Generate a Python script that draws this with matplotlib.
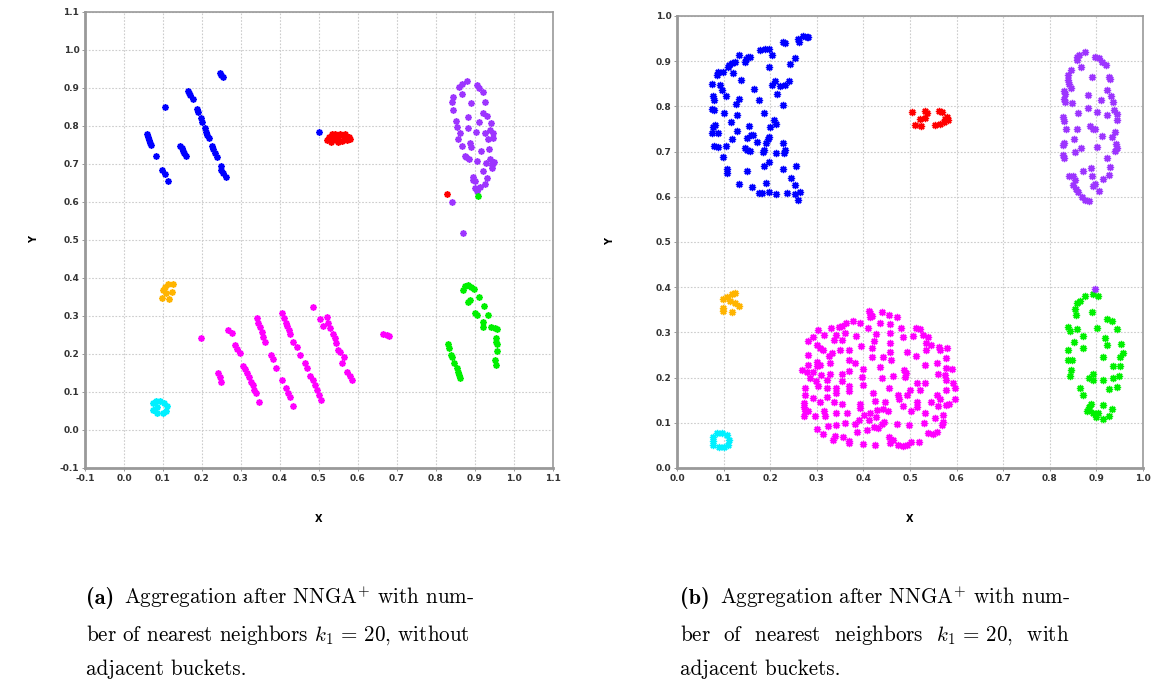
import numpy as np
import matplotlib.pyplot as plt

plt.rcParams['mathtext.fontset'] = 'cm'

# ---- panel (a): without adjacent buckets ----
a_blue = [(0.250, 0.934), (0.254, 0.928), (0.247, 0.939),
          (0.165, 0.893), (0.168, 0.886), (0.169, 0.882), (0.176, 0.870), (0.188, 0.844),
          (0.191, 0.838), (0.197, 0.820), (0.199, 0.811), (0.208, 0.794), (0.210, 0.785),
          (0.214, 0.776), (0.219, 0.768), (0.225, 0.747), (0.229, 0.739), (0.233, 0.728),
          (0.238, 0.719), (0.248, 0.695), (0.250, 0.684), (0.255, 0.675), (0.261, 0.665),
          (0.105, 0.849), (0.058, 0.779), (0.061, 0.772), (0.064, 0.763), (0.067, 0.756),
          (0.069, 0.750), (0.082, 0.721), (0.144, 0.747), (0.148, 0.741), (0.152, 0.735),
          (0.155, 0.728), (0.159, 0.721), (0.097, 0.684), (0.105, 0.674), (0.114, 0.656),
          (0.500, 0.785)]
a_red = [(0.520, 0.762), (0.525, 0.772), (0.530, 0.758), (0.535, 0.768), (0.540, 0.778),
         (0.545, 0.762), (0.550, 0.772), (0.555, 0.780), (0.560, 0.760), (0.563, 0.770),
         (0.568, 0.778), (0.572, 0.762), (0.576, 0.772), (0.580, 0.766), (0.533, 0.780),
         (0.548, 0.757), (0.828, 0.622)]
a_purple = [(0.879, 0.919), (0.866, 0.911), (0.860, 0.903), (0.904, 0.908), (0.911, 0.899),
            (0.920, 0.890), (0.844, 0.877), (0.868, 0.884), (0.891, 0.861), (0.840, 0.864),
            (0.926, 0.864), (0.843, 0.842), (0.921, 0.835), (0.930, 0.825), (0.851, 0.814),
            (0.940, 0.809), (0.881, 0.823), (0.911, 0.811), (0.853, 0.798), (0.883, 0.794),
            (0.862, 0.782), (0.903, 0.785), (0.938, 0.789), (0.926, 0.781), (0.947, 0.782),
            (0.934, 0.765), (0.947, 0.768), (0.857, 0.765), (0.887, 0.754), (0.868, 0.747),
            (0.891, 0.744), (0.937, 0.739), (0.915, 0.735), (0.874, 0.721), (0.885, 0.712),
            (0.904, 0.709), (0.938, 0.712), (0.947, 0.702), (0.943, 0.689), (0.928, 0.702),
            (0.921, 0.682), (0.896, 0.667), (0.930, 0.662), (0.900, 0.654), (0.926, 0.647),
            (0.900, 0.636), (0.913, 0.639), (0.904, 0.630), (0.945, 0.697), (0.896, 0.658),
            (0.949, 0.706), (0.878, 0.718), (0.840, 0.601), (0.869, 0.518)]
a_orange = [(0.114, 0.384), (0.105, 0.377), (0.099, 0.368), (0.122, 0.364), (0.109, 0.360),
            (0.097, 0.347), (0.116, 0.344), (0.125, 0.384)]
a_cyan = [(0.075, 0.070), (0.082, 0.077), (0.092, 0.075), (0.103, 0.072), (0.111, 0.063),
          (0.108, 0.051), (0.099, 0.044), (0.085, 0.046), (0.074, 0.053), (0.085, 0.061)]
a_green = [(0.870, 0.368), (0.874, 0.379), (0.883, 0.382), (0.891, 0.377), (0.897, 0.370),
           (0.887, 0.342), (0.883, 0.338), (0.911, 0.349), (0.923, 0.325), (0.900, 0.309),
           (0.904, 0.303), (0.934, 0.303), (0.920, 0.285), (0.921, 0.272), (0.940, 0.270),
           (0.951, 0.268), (0.956, 0.265), (0.954, 0.241), (0.954, 0.232), (0.956, 0.226),
           (0.956, 0.209), (0.951, 0.184), (0.954, 0.171), (0.832, 0.226), (0.834, 0.215),
           (0.838, 0.197), (0.840, 0.191), (0.846, 0.175), (0.853, 0.162), (0.857, 0.153),
           (0.860, 0.145), (0.862, 0.136), (0.907, 0.616)]
a_magenta = [(0.197, 0.241),
             (0.242, 0.149), (0.246, 0.139), (0.250, 0.127),
             (0.267, 0.263), (0.276, 0.254), (0.285, 0.224), (0.291, 0.212), (0.297, 0.202),
             (0.306, 0.168), (0.310, 0.160), (0.316, 0.151), (0.321, 0.140), (0.325, 0.127),
             (0.330, 0.118), (0.333, 0.105), (0.338, 0.097), (0.347, 0.073),
             (0.340, 0.294), (0.344, 0.281), (0.349, 0.270), (0.353, 0.259), (0.357, 0.246),
             (0.362, 0.232),
             (0.376, 0.197), (0.381, 0.186), (0.391, 0.162), (0.404, 0.132), (0.415, 0.110),
             (0.421, 0.098), (0.426, 0.088), (0.433, 0.063),
             (0.404, 0.307), (0.410, 0.294), (0.415, 0.282), (0.419, 0.274), (0.424, 0.263),
             (0.427, 0.253), (0.434, 0.232), (0.443, 0.218), (0.451, 0.197), (0.464, 0.175),
             (0.470, 0.162), (0.477, 0.142), (0.484, 0.132), (0.490, 0.118), (0.496, 0.105),
             (0.501, 0.092), (0.504, 0.079),
             (0.485, 0.323), (0.503, 0.291), (0.521, 0.298), (0.524, 0.281), (0.511, 0.274),
             (0.528, 0.268), (0.537, 0.253), (0.541, 0.241), (0.545, 0.228), (0.550, 0.211),
             (0.554, 0.206), (0.564, 0.191), (0.558, 0.175), (0.571, 0.153), (0.579, 0.142),
             (0.586, 0.132),
             (0.665, 0.252), (0.675, 0.250), (0.680, 0.247)]

# ---- panel (b): with adjacent buckets ----
b_blue = [(0.271, 0.956), (0.278, 0.953), (0.282, 0.953), (0.260, 0.948), (0.262, 0.943),
          (0.228, 0.943), (0.232, 0.941), (0.177, 0.925), (0.189, 0.926), (0.198, 0.926),
          (0.203, 0.914), (0.253, 0.906), (0.242, 0.894), (0.198, 0.886), (0.132, 0.914),
          (0.153, 0.910), (0.157, 0.909), (0.148, 0.904), (0.146, 0.899), (0.124, 0.899),
          (0.117, 0.895), (0.112, 0.892), (0.110, 0.888), (0.099, 0.875), (0.089, 0.875),
          (0.085, 0.869), (0.121, 0.873), (0.137, 0.858), (0.074, 0.850), (0.092, 0.847),
          (0.096, 0.836), (0.210, 0.856), (0.241, 0.856), (0.232, 0.847), (0.220, 0.844),
          (0.203, 0.847), (0.165, 0.838), (0.215, 0.827), (0.077, 0.823), (0.105, 0.823),
          (0.080, 0.813), (0.134, 0.816), (0.126, 0.805), (0.175, 0.813), (0.227, 0.802),
          (0.074, 0.794), (0.079, 0.792), (0.101, 0.786), (0.128, 0.781), (0.187, 0.786),
          (0.209, 0.770), (0.212, 0.761), (0.200, 0.755), (0.115, 0.766), (0.082, 0.759),
          (0.078, 0.754), (0.155, 0.757), (0.074, 0.742), (0.089, 0.740), (0.128, 0.746),
          (0.158, 0.737), (0.164, 0.737), (0.150, 0.729), (0.119, 0.727), (0.198, 0.732),
          (0.196, 0.727), (0.172, 0.722), (0.191, 0.720), (0.228, 0.720), (0.079, 0.712),
          (0.087, 0.710), (0.105, 0.712), (0.146, 0.707), (0.151, 0.704), (0.157, 0.702),
          (0.187, 0.704), (0.184, 0.700), (0.232, 0.704), (0.230, 0.696), (0.212, 0.696),
          (0.098, 0.687), (0.198, 0.676), (0.187, 0.667), (0.108, 0.661), (0.108, 0.652),
          (0.151, 0.656), (0.227, 0.661), (0.255, 0.667), (0.244, 0.641), (0.132, 0.628),
          (0.192, 0.630), (0.253, 0.625), (0.160, 0.621), (0.175, 0.609), (0.182, 0.608),
          (0.198, 0.611), (0.212, 0.606), (0.237, 0.608), (0.253, 0.606), (0.264, 0.611),
          (0.260, 0.593)]
b_red = [(0.504, 0.787), (0.532, 0.790), (0.536, 0.785), (0.521, 0.772), (0.532, 0.774),
         (0.511, 0.759), (0.523, 0.757), (0.563, 0.790), (0.568, 0.787), (0.580, 0.777),
         (0.575, 0.772), (0.582, 0.770), (0.573, 0.765), (0.564, 0.760), (0.554, 0.759)]
b_purple = [(0.876, 0.921), (0.863, 0.914), (0.858, 0.909), (0.859, 0.903), (0.897, 0.909),
            (0.906, 0.906), (0.911, 0.899), (0.921, 0.892), (0.866, 0.886), (0.845, 0.881),
            (0.838, 0.869), (0.890, 0.864), (0.840, 0.858), (0.842, 0.850), (0.845, 0.840),
            (0.926, 0.866), (0.928, 0.860), (0.830, 0.835), (0.833, 0.827), (0.922, 0.836),
            (0.931, 0.822), (0.881, 0.825), (0.909, 0.814), (0.830, 0.816), (0.833, 0.810),
            (0.847, 0.807), (0.936, 0.810), (0.881, 0.796), (0.861, 0.786), (0.902, 0.788),
            (0.938, 0.792), (0.945, 0.783), (0.922, 0.781), (0.828, 0.776), (0.830, 0.768),
            (0.945, 0.770), (0.886, 0.757), (0.892, 0.749), (0.897, 0.749), (0.835, 0.749),
            (0.859, 0.749), (0.940, 0.744), (0.933, 0.733), (0.852, 0.727), (0.911, 0.735),
            (0.830, 0.718), (0.828, 0.715), (0.942, 0.717), (0.945, 0.707), (0.940, 0.702),
            (0.866, 0.707), (0.854, 0.698), (0.902, 0.711), (0.829, 0.692), (0.830, 0.685),
            (0.922, 0.685), (0.929, 0.665), (0.926, 0.648), (0.888, 0.663), (0.872, 0.656),
            (0.890, 0.645), (0.842, 0.645), (0.850, 0.645), (0.854, 0.636), (0.850, 0.626),
            (0.915, 0.639), (0.897, 0.628), (0.893, 0.624), (0.856, 0.617), (0.861, 0.611),
            (0.906, 0.613), (0.868, 0.600), (0.876, 0.593), (0.885, 0.591), (0.897, 0.395)]
b_orange = [(0.099, 0.373), (0.107, 0.379), (0.117, 0.385), (0.124, 0.388), (0.114, 0.370),
            (0.124, 0.364), (0.134, 0.358), (0.099, 0.348), (0.117, 0.346), (0.098, 0.353)]
b_cyan = [(0.078, 0.069), (0.085, 0.077), (0.096, 0.078), (0.107, 0.073), (0.112, 0.063),
          (0.110, 0.051), (0.101, 0.046), (0.091, 0.047), (0.078, 0.051), (0.077, 0.060)]
b_green = [(0.892, 0.386), (0.904, 0.381), (0.876, 0.381), (0.865, 0.370), (0.859, 0.364),
           (0.854, 0.351), (0.856, 0.338), (0.890, 0.346), (0.923, 0.329), (0.933, 0.326),
           (0.945, 0.307), (0.838, 0.311), (0.843, 0.302), (0.859, 0.307), (0.901, 0.309),
           (0.871, 0.292), (0.918, 0.287), (0.852, 0.279), (0.871, 0.265), (0.923, 0.272),
           (0.952, 0.274), (0.838, 0.260), (0.956, 0.255), (0.951, 0.245), (0.915, 0.245),
           (0.840, 0.239), (0.847, 0.240), (0.935, 0.226), (0.951, 0.226), (0.845, 0.217),
           (0.892, 0.209), (0.843, 0.204), (0.883, 0.198), (0.893, 0.195), (0.914, 0.195),
           (0.936, 0.198), (0.949, 0.204), (0.944, 0.180), (0.926, 0.174), (0.865, 0.176),
           (0.871, 0.162), (0.888, 0.142), (0.885, 0.134), (0.914, 0.139), (0.933, 0.130),
           (0.879, 0.125), (0.893, 0.121), (0.904, 0.122), (0.926, 0.114), (0.899, 0.112),
           (0.915, 0.108), (0.883, 0.128)]
b_magenta = [(0.412, 0.348), (0.415, 0.342), (0.439, 0.344), (0.455, 0.339), (0.471, 0.333),
             (0.377, 0.326), (0.414, 0.333), (0.418, 0.336),
             (0.362, 0.320), (0.353, 0.314), (0.348, 0.311), (0.393, 0.321), (0.435, 0.321),
             (0.457, 0.319), (0.480, 0.309), (0.513, 0.309), (0.521, 0.307), (0.303, 0.305),
             (0.330, 0.309), (0.410, 0.309),
             (0.360, 0.298), (0.342, 0.294), (0.315, 0.294), (0.292, 0.289), (0.282, 0.282),
             (0.337, 0.283), (0.355, 0.283), (0.384, 0.292), (0.428, 0.296), (0.458, 0.298),
             (0.484, 0.290), (0.507, 0.292), (0.527, 0.294), (0.539, 0.289), (0.422, 0.280),
             (0.457, 0.277), (0.535, 0.277),
             (0.300, 0.272), (0.307, 0.265), (0.314, 0.262), (0.394, 0.270), (0.370, 0.261),
             (0.418, 0.265), (0.332, 0.255), (0.282, 0.250), (0.350, 0.260), (0.458, 0.257),
             (0.493, 0.257), (0.535, 0.261), (0.563, 0.268), (0.564, 0.260), (0.546, 0.272),
             (0.580, 0.265),
             (0.327, 0.248), (0.418, 0.246), (0.441, 0.245), (0.460, 0.240), (0.513, 0.248),
             (0.301, 0.235), (0.328, 0.233), (0.368, 0.240), (0.282, 0.228), (0.532, 0.228),
             (0.557, 0.233), (0.578, 0.243), (0.382, 0.233), (0.300, 0.226), (0.307, 0.228),
             (0.268, 0.217), (0.278, 0.213), (0.291, 0.213), (0.328, 0.209), (0.368, 0.215),
             (0.398, 0.218), (0.435, 0.223), (0.487, 0.217), (0.491, 0.211), (0.578, 0.221),
             (0.589, 0.218), (0.561, 0.209), (0.285, 0.200), (0.310, 0.206), (0.353, 0.208),
             (0.396, 0.202), (0.439, 0.200), (0.464, 0.203), (0.489, 0.202), (0.575, 0.206),
             (0.298, 0.193), (0.321, 0.195), (0.353, 0.193), (0.514, 0.189), (0.532, 0.187),
             (0.578, 0.195), (0.275, 0.178), (0.303, 0.181), (0.321, 0.176), (0.341, 0.178),
             (0.368, 0.181), (0.398, 0.184), (0.455, 0.176), (0.500, 0.172), (0.420, 0.167),
             (0.593, 0.187), (0.596, 0.178), (0.578, 0.172), (0.521, 0.172),
             (0.275, 0.162), (0.291, 0.154), (0.322, 0.156), (0.342, 0.165), (0.368, 0.171),
             (0.272, 0.143), (0.307, 0.147), (0.337, 0.145), (0.353, 0.142), (0.393, 0.142),
             (0.425, 0.149), (0.475, 0.162), (0.494, 0.162), (0.477, 0.152), (0.514, 0.145),
             (0.544, 0.145), (0.564, 0.152), (0.557, 0.162), (0.596, 0.152), (0.584, 0.142),
             (0.446, 0.145),
             (0.272, 0.136), (0.275, 0.125), (0.272, 0.115), (0.282, 0.127), (0.296, 0.115),
             (0.315, 0.125), (0.317, 0.115), (0.342, 0.122), (0.364, 0.122), (0.393, 0.132),
             (0.401, 0.117), (0.415, 0.122), (0.430, 0.128), (0.441, 0.130), (0.453, 0.127),
             (0.484, 0.137), (0.503, 0.127), (0.516, 0.134), (0.532, 0.122), (0.578, 0.139),
             (0.561, 0.137), (0.570, 0.117), (0.553, 0.110), (0.391, 0.106), (0.413, 0.106),
             (0.428, 0.112),
             (0.300, 0.086), (0.325, 0.093), (0.342, 0.095), (0.360, 0.099), (0.382, 0.097),
             (0.444, 0.102), (0.471, 0.097), (0.498, 0.095), (0.530, 0.100), (0.571, 0.102),
             (0.568, 0.095), (0.422, 0.091), (0.432, 0.088), (0.439, 0.097), (0.314, 0.075),
             (0.339, 0.071), (0.357, 0.069), (0.387, 0.080), (0.539, 0.078), (0.550, 0.075),
             (0.557, 0.080), (0.407, 0.084),
             (0.334, 0.062), (0.370, 0.060), (0.370, 0.056), (0.400, 0.053), (0.425, 0.051),
             (0.455, 0.069), (0.464, 0.062), (0.475, 0.051), (0.484, 0.049), (0.493, 0.051),
             (0.503, 0.058), (0.520, 0.058), (0.457, 0.056)]

a_ticks = [-0.1, 0.0, 0.1, 0.2, 0.3, 0.4, 0.5, 0.6, 0.7, 0.8, 0.9, 1.0, 1.1]
a_ticklabels = ['-0.1', '0.0', '0.1', '0.2', '0.3', '0.4', '0.5', '0.6', '0.7', '0.8',
                '0.9', '1.0', '1.1']
b_ticks = [0.0, 0.1, 0.2, 0.3, 0.4, 0.5, 0.6, 0.7, 0.8, 0.9, 1.0]
b_ticklabels = ['0.0', '0.1', '0.2', '0.3', '0.4', '0.5', '0.6', '0.7', '0.8', '0.9', '1.0']

caption_a = [r'Aggregation after NNGA$^{+}$ with num-',
             r'ber of nearest neighbors $k_1\,=\,20$, without',
             'adjacent buckets.']
caption_b = [r'Aggregation after NNGA$^{+}$ with num-',
             r'ber  of  nearest  neighbors  $k_1\,=\,20$,  with',
             'adjacent buckets.']

colors = {'blue': '#0000ff', 'red': '#ff0000', 'purple': '#9d35ff', 'orange': '#ffb400',
          'cyan': '#00f0ff', 'green': '#00f000', 'magenta': '#ff00ff'}

fig = plt.figure(figsize=(11.51, 6.85), dpi=100)

ax_a = fig.add_axes([0.0738, 0.3168, 0.4066, 0.6657])
ax_b = fig.add_axes([0.5882, 0.3168, 0.4049, 0.6599])


def style_axes(ax, ticks, labels, lo, hi, ylabelpad):
    ax.set_xlim(lo, hi)
    ax.set_ylim(lo, hi)
    ax.set_xticks(ticks)
    ax.set_xticklabels(labels)
    ax.set_yticks(ticks)
    ax.set_yticklabels(labels)
    ax.tick_params(length=2, width=0.6, color='#888888', labelsize=6.5,
                   labelcolor='#333333', pad=2)
    for lab in ax.get_xticklabels() + ax.get_yticklabels():
        lab.set_fontweight('bold')
    ax.grid(True, color='#cccccc', linestyle=(0, (1.5, 1.5)), linewidth=0.8)
    ax.set_axisbelow(True)
    for sp in ax.spines.values():
        sp.set_color('#999999')
        sp.set_linewidth(1.2)
    ax.spines['left'].set_linewidth(2)
    ax.spines['bottom'].set_linewidth(2)
    ax.set_xlabel('X', fontsize=7, fontweight='bold', labelpad=23)
    ax.set_ylabel('Y', fontsize=7, fontweight='bold', labelpad=ylabelpad)


style_axes(ax_a, a_ticks, a_ticklabels, -0.1, 1.1, 15)
style_axes(ax_b, b_ticks, b_ticklabels, 0.0, 1.0, 29)


def draw(ax, pts, color, ms, mew):
    xs = [p[0] for p in pts]
    ys = [p[1] for p in pts]
    ax.plot(xs, ys, linestyle='none', marker=(8, 2, 0), ms=ms, mew=mew,
            color=colors[color], clip_on=False)


for pts, c in [(a_blue, 'blue'), (a_red, 'red'), (a_purple, 'purple'), (a_orange, 'orange'),
               (a_cyan, 'cyan'), (a_green, 'green'), (a_magenta, 'magenta')]:
    draw(ax_a, pts, c, 4.6, 1.2)

for pts, c in [(b_blue, 'blue'), (b_red, 'red'), (b_green, 'green'), (b_purple, 'purple'),
               (b_orange, 'orange'), (b_cyan, 'cyan'), (b_magenta, 'magenta')]:
    draw(ax_b, pts, c, 5.2, 1.0)

# captions under the panels
line_y = [0.1185, 0.0652, 0.0140]
cap_size = 15.2
fig.text(0.0747, line_y[0], '(a)', fontfamily='cmb10', fontsize=cap_size + 0.8,
         va='baseline')
fig.text(0.5908, line_y[0], '(b)', fontfamily='cmb10', fontsize=cap_size + 0.8,
         va='baseline')
for i, line in enumerate(caption_a):
    x0 = 0.1080 if i == 0 else 0.0747
    fig.text(x0, line_y[i], line, fontfamily='cmr10', fontsize=cap_size, va='baseline')
for i, line in enumerate(caption_b):
    x0 = 0.6255 if i == 0 else 0.5908
    fig.text(x0, line_y[i], line, fontfamily='cmr10', fontsize=cap_size, va='baseline')

fig.savefig('out.png', dpi=100)
